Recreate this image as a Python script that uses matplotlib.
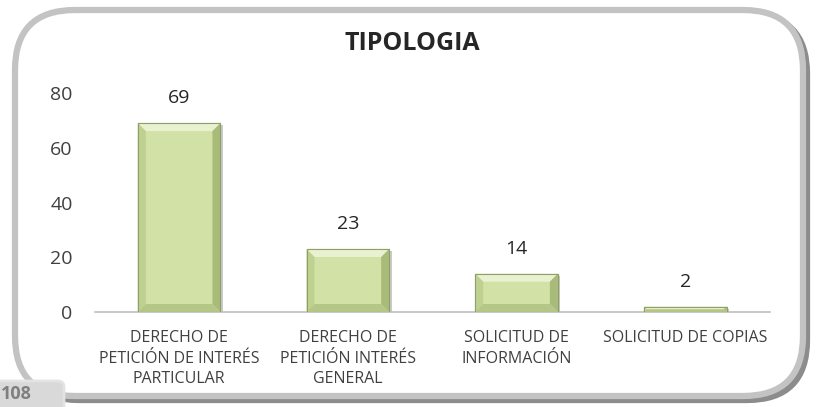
import matplotlib
matplotlib.use("Agg")
import matplotlib.pyplot as plt
from matplotlib.patches import FancyBboxPatch, Rectangle, Polygon
import numpy as np

categories = ["DERECHO DE\nPETICIÓN DE INTERÉS\nPARTICULAR",
              "DERECHO DE\nPETICIÓN INTERÉS\nGENERAL",
              "SOLICITUD DE\nINFORMACIÓN",
              "SOLICITUD DE COPIAS"]
values = [69, 23, 14, 2]
yticks = [0, 20, 40, 60, 80]
title = "TIPOLOGIA"
page_number = "108"

plt.rcParams['font.family'] = ['Open Sans', 'DejaVu Sans']

fig = plt.figure(figsize=(8.17, 4.07), dpi=100)
fig.patch.set_facecolor('white')

# Frame with shadow
shadow = FancyBboxPatch((0.19, 0.07), 7.88, 3.86,
                        boxstyle="round,pad=0,rounding_size=0.6",
                        transform=fig.dpi_scale_trans, fill=False,
                        edgecolor='#8c8c8c', linewidth=4.5, zorder=-2)
fig.patches.append(shadow)
frame = FancyBboxPatch((0.15, 0.11), 7.88, 3.86,
                       boxstyle="round,pad=0,rounding_size=0.6",
                       transform=fig.dpi_scale_trans, facecolor='white',
                       edgecolor='#c3c3c3', linewidth=4.5, zorder=-1)
fig.patches.append(frame)

ax = fig.add_axes([0.116, 0.2334, 0.826, 0.5381])
ax.set_zorder(2)
ax.set_facecolor('none')
ax.set_xlim(-0.5, len(values) - 0.5)
ax.set_ylim(0, 80)
x = np.arange(len(values))
bars = ax.bar(x, values, width=0.49, color='#d2e2a6', edgecolor='#8f9f6a',
              linewidth=0.8, zorder=3)

# pixel size in data units (for bevel)
fig.canvas.draw()
p0 = ax.transData.inverted().transform((0, 0))
p1 = ax.transData.inverted().transform((1, 1))
px_x, px_y = p1[0] - p0[0], p1[1] - p0[1]
bev = 8
for b in bars:
    bx, by = b.get_x(), b.get_y()
    bw, bh = b.get_width(), b.get_height()
    dy = min(bev * px_y, bh / 2.0)
    dxs = (dy / px_y) * px_x
    x0, x1, y0, y1 = bx, bx + bw, by, by + bh
    # soft shadow
    sh = bh - 2 * px_y if bh > 4 * px_y else bh
    ax.add_patch(Rectangle((x0 + 2.5 * px_x, y0), bw, sh,
                           facecolor='#a8a8a8', edgecolor='none', alpha=0.6,
                           zorder=2.5))
    top = Polygon([(x0, y1), (x1, y1), (x1 - dxs, y1 - dy), (x0 + dxs, y1 - dy)],
                  closed=True, facecolor='#e9f1d0', edgecolor='none', zorder=4)
    left = Polygon([(x0, y0), (x0, y1), (x0 + dxs, y1 - dy), (x0 + dxs, y0 + dy)],
                   closed=True, facecolor='#bfd190', edgecolor='none', zorder=4)
    right = Polygon([(x1, y0), (x1, y1), (x1 - dxs, y1 - dy), (x1 - dxs, y0 + dy)],
                    closed=True, facecolor='#a9bb78', edgecolor='none', zorder=4)
    bottom = Polygon([(x0, y0), (x1, y0), (x1 - dxs, y0 + dy), (x0 + dxs, y0 + dy)],
                     closed=True, facecolor='#b5c786', edgecolor='none', zorder=4)
    for p in (top, left, right, bottom):
        ax.add_patch(p)
    ax.add_patch(Rectangle((x0, y0), bw, bh, facecolor='none',
                           edgecolor='#8f9f6a', linewidth=0.8, zorder=5))

for xi, v in zip(x, values):
    ax.annotate(str(v), (xi, v), xytext=(0, 11.5), textcoords='offset points',
                ha='center', va='bottom', fontsize=14, color='#262626')

ax.set_yticks(yticks)
ax.set_yticklabels([str(t) for t in yticks], fontsize=14, color='#404040')
ax.set_xticks(x)
ax.set_xticklabels(categories, fontsize=11.5, color='#404040', linespacing=1.38)
ax.tick_params(axis='x', length=0, pad=13)
ax.tick_params(axis='y', length=0, pad=16)
for s in ['top', 'right', 'left']:
    ax.spines[s].set_visible(False)
ax.spines['bottom'].set_color('#bfbfbf')
ax.spines['bottom'].set_linewidth(1.2)

fig.text(0.505, 0.892, title, ha='center', va='center', fontsize=18,
         fontweight='bold', color='#262626')

# page number box
pbox = FancyBboxPatch((-0.1, -0.1), 0.74, 0.36,
                      boxstyle="round,pad=0,rounding_size=0.06",
                      transform=fig.dpi_scale_trans, facecolor='#d9d9d9',
                      edgecolor='#e3e3e3', linewidth=2, zorder=5)
fig.patches.append(pbox)
fig.text(0.001, 0.032, page_number, ha='left', va='center',
         fontsize=13, fontweight='bold', color='#7f7f7f', zorder=6)

fig.savefig('out.png', dpi=100, facecolor='white')
